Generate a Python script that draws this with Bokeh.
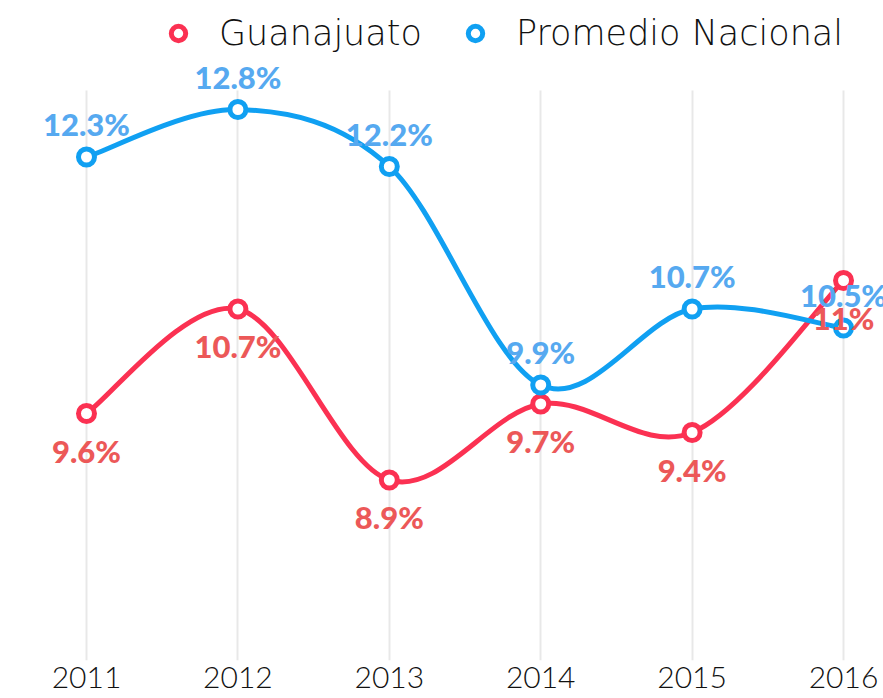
from bokeh.plotting import figure
from bokeh.models import (ColumnDataSource, Range1d, FixedTicker, Legend, LegendItem)
from bokeh.core.properties import value
from bokeh.embed import file_html
from bokeh.resources import INLINE

years = [2011, 2012, 2013, 2014, 2015, 2016]
guanajuato = [9.6, 10.7, 8.9, 9.7, 9.4, 11.0]
nacional = [12.3, 12.8, 12.2, 9.9, 10.7, 10.5]
guanajuato_labels = ["9.6%", "10.7%", "8.9%", "9.7%", "9.4%", "11%"]
nacional_labels = ["12.3%", "12.8%", "12.2%", "9.9%", "10.7%", "10.5%"]
series_names = ["Guanajuato", "Promedio Nacional"]
y_min, y_max = 7.0, 13.0

RED = "#fb3152"
RED_LABEL = "#ec5858"
BLUE = "#10a0f2"
BLUE_LABEL = "#56a9f0"

LEGEND_FONT = "'DejaVu Sans ExtraLight', 'DejaVu Sans Light', 'DejaVu Sans', sans-serif"
TICK_FONT = "'Lato Light', Lato, sans-serif"
LABEL_FONT = "'Lato Black', Lato, sans-serif"


def bezier_source(xs, ys):
    n = len(xs)
    d = dict(x0=[], y0=[], x1=[], y1=[], cx0=[], cy0=[], cx1=[], cy1=[])
    for i in range(n - 1):
        ip = max(i - 1, 0)
        inn = min(i + 2, n - 1)
        d["x0"].append(xs[i]); d["y0"].append(ys[i])
        d["x1"].append(xs[i + 1]); d["y1"].append(ys[i + 1])
        d["cx0"].append(xs[i] + (xs[i + 1] - xs[ip]) / 6.0)
        d["cy0"].append(ys[i] + (ys[i + 1] - ys[ip]) / 6.0)
        d["cx1"].append(xs[i + 1] - (xs[inn] - xs[i]) / 6.0)
        d["cy1"].append(ys[i + 1] - (ys[inn] - ys[i]) / 6.0)
    return ColumnDataSource(d)


FRAME_H = 660
PX_PER_UNIT = 95.0
p = figure(width=883, height=698, output_backend="svg", toolbar_location=None,
           x_range=Range1d(2010.432, 2016.264),
           y_range=Range1d(y_min, y_min + FRAME_H / PX_PER_UNIT),
           min_border_left=0, min_border_right=0, min_border_top=0, min_border_bottom=698 - FRAME_H)
p.outline_line_color = None
p.background_fill_color = "white"
p.border_fill_color = "white"

p.yaxis.visible = False
p.ygrid.grid_line_color = None
p.xgrid.grid_line_color = "#e8e8e8"
p.xgrid.grid_line_width = 2
p.xgrid.cross_bounds = (y_min, y_max)
p.xaxis.ticker = FixedTicker(ticks=years)
p.xaxis.axis_line_color = None
p.xaxis.major_tick_line_color = None
p.xaxis.minor_tick_line_color = None
p.xaxis.major_label_text_font = TICK_FONT
p.xaxis.major_label_text_font_size = "30px"
p.xaxis.major_label_text_color = "#111111"
p.xaxis.major_label_standoff = 0

src_g = ColumnDataSource(dict(x=years, y=guanajuato, t=guanajuato_labels))
src_n = ColumnDataSource(dict(x=years, y=nacional, t=nacional_labels))

# curves
p.bezier(x0="x0", y0="y0", x1="x1", y1="y1", cx0="cx0", cy0="cy0", cx1="cx1", cy1="cy1",
         source=bezier_source(years, guanajuato), line_color=RED, line_width=5)
p.bezier(x0="x0", y0="y0", x1="x1", y1="y1", cx0="cx0", cy0="cy0", cx1="cx1", cy1="cy1",
         source=bezier_source(years, nacional), line_color=BLUE, line_width=5)

# markers
m_g = p.scatter("x", "y", source=src_g, size=16, marker="circle", fill_color="white",
                line_color=RED, line_width=5)
m_n = p.scatter("x", "y", source=src_n, size=16, marker="circle", fill_color="white",
                line_color=BLUE, line_width=5)

# data labels
p.text("x", "y", text="t", source=src_g, text_color=RED_LABEL, text_font=value(LABEL_FONT),
       text_font_size="31px", text_font_style="bold", text_align="center",
       text_baseline="middle", y_offset=37)
p.text("x", "y", text="t", source=src_n, text_color=BLUE_LABEL, text_font=value(LABEL_FONT),
       text_font_size="31px", text_font_style="bold", text_align="center",
       text_baseline="middle", y_offset=-33)

# legend dummies
l_g = p.line([], [], line_color=RED, line_width=5)
l_n = p.line([], [], line_color=BLUE, line_width=5)

common = dict(orientation="horizontal", label_text_font=LEGEND_FONT,
              label_text_font_size="35px", label_text_color="#111111",
              glyph_width=36, glyph_height=40, label_standoff=23, padding=0, margin=0,
              border_line_color=None, background_fill_alpha=0)
legend_g = Legend(items=[LegendItem(label=series_names[0], renderers=[l_g, m_g])],
                  location=(160, FRAME_H - 33 - 20), **common)
legend_n = Legend(items=[LegendItem(label=series_names[1], renderers=[l_n, m_n])],
                  location=(457, FRAME_H - 33 - 20), **common)
p.add_layout(legend_g, "center")
p.add_layout(legend_n, "center")

open("out.html", "w").write(file_html(p, INLINE))
